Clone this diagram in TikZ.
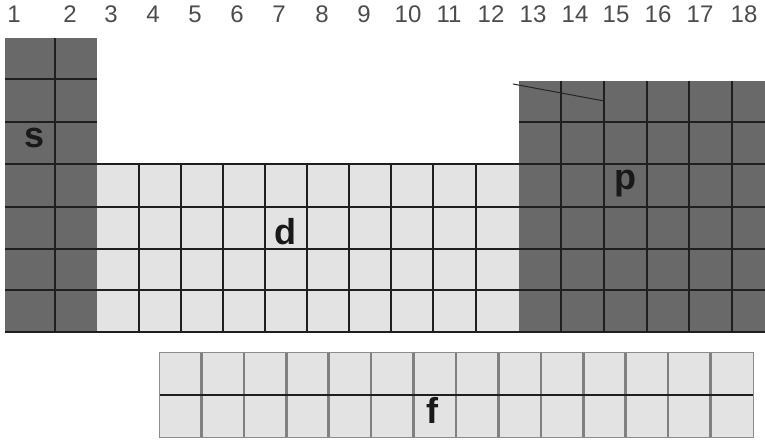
\documentclass[tikz,border=0pt]{standalone}
\usepackage{fontspec}
\setmainfont{Liberation Sans}
\usetikzlibrary{positioning}

\begin{document}
\begin{tikzpicture}[x=1pt, y=-1pt,
    darkblk/.style={fill=black!59},
    lightblk/.style={fill=black!11},
    gridline/.style={draw=black!88, line width=2.6pt},
    softline/.style={draw=black!50, line width=2.6pt},
    colnum/.style={font=\fontsize{24}{24}\selectfont, text=black!70},
    blklabel/.style={font=\bfseries\fontsize{36}{36}\selectfont, text=black!90}]

\useasboundingbox (0,0) rectangle (765,439);

% Block fills
\fill[darkblk] (5,38) rectangle (97,332);
\fill[lightblk] (97,164) rectangle (519,332);
\fill[darkblk] (519,81) rectangle (765,332);
\fill[lightblk] (159,352) rectangle (753,437);

% s block grid
\draw[gridline] (55,38) -- (55,332);
\foreach \y in {79,122} \draw[gridline] (5,\y) -- (97,\y);

% d block grid
\foreach \x in {139,181,223,265,307,349,391,433,476} \draw[gridline] (\x,164) -- (\x,332);

% p block grid
\foreach \x in {561,604,647,689,732} \draw[gridline] (\x,81) -- (\x,332);
\draw[gridline] (519,122) -- (765,122);
\draw[black!85, line width=1pt] (513,84) -- (604,101);

% rows shared by s, d and p
\foreach \y in {164,207,249,290,332} \draw[gridline] (5,\y) -- (765,\y);

% f block grid
\foreach \k in {1,...,13} \draw[softline] (159+42.43*\k,352) -- (159+42.43*\k,437);
\draw[gridline] (159,395) -- (753,395);
\draw[black!45, line width=1pt] (159,352) rectangle (753,437);

% Column numbers
\foreach \n/\x in {1/14,2/70,3/111,4/153,5/195,6/237,7/279,8/322,9/364,10/408,11/449,12/491,13/533,14/575,15/616,16/658,17/700,18/744}
  \node[colnum] (col\n) at (\x,14) {\n};

% Block labels
\node[blklabel] (sblk) at (35,138) {s};
\node[blklabel] (dblk) at (285,232) {d};
\node[blklabel] (pblk) at (625,184) {p};
\node[blklabel] (fblk) at (432,410) {f};

\end{tikzpicture}
\end{document}
